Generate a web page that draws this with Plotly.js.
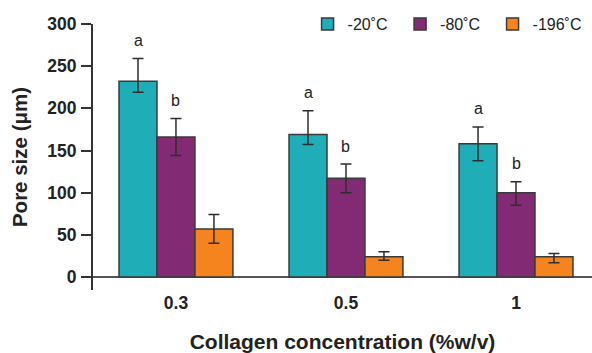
<!DOCTYPE html>
<html>
<head>
<meta charset="utf-8">
<script src="https://cdn.plot.ly/plotly-3.0.1.min.js"></script>
<style>
  html, body { margin: 0; padding: 0; background: #ffffff; }
  #chart { width: 592px; height: 353px; }
</style>
</head>
<body>
<div id="chart"></div>
<script>
// ---- data ----
const categories = ["0.3", "0.5", "1"];
const seriesNames = ["-20˚C", "-80˚C", "-196˚C"];

const pore20 = [232, 169, 158];
const pore80 = [166, 117, 100];
const pore196 = [57, 24, 24];

const errUp20 = [27, 28, 20];
const errDown20 = [13, 12, 20];
const errUp80 = [22, 17, 13];
const errDown80 = [22, 17, 15];
const errUp196 = [17, 6, 4];
const errDown196 = [17, 4, 7];

const letters20 = ["a", "a", "a"];
const letters80 = ["b", "b", "b"];

const yTicks = [0, 50, 100, 150, 200, 250, 300];

// ---- styling ----
const colors = ["#1fadb7", "#832a74", "#f5841f"];
const FONT = "Liberation Sans, Arial, Helvetica, sans-serif";
const BARGAP = 0.33;

const values = [pore20, pore80, pore196];
const ups = [errUp20, errUp80, errUp196];
const downs = [errDown20, errDown80, errDown196];

const traces = values.map((v, j) => ({
  type: "bar",
  name: seriesNames[j],
  x: categories,
  y: v,
  marker: { color: colors[j], line: { color: "#3a3a3a", width: 1.5 } },
  error_y: {
    type: "data", symmetric: false,
    array: ups[j], arrayminus: downs[j],
    color: "#2e2e2e", thickness: 1.5, width: 5.5
  },
  hoverinfo: "skip"
}));

const barW = (1 - BARGAP) / 3;
const annotations = [];
[[letters20, 0], [letters80, 1]].forEach(([labs, j]) => {
  labs.forEach((t, i) => {
    annotations.push({
      x: i + (j - 1) * barW,
      y: values[j][i] + ups[j][i],
      xref: "x", yref: "y",
      text: t, showarrow: false,
      yanchor: "middle", yshift: 18,
      font: { family: FONT, size: 16, color: "#222" }
    });
  });
});

const layout = {
  width: 592, height: 353,
  margin: { l: 93, r: 0, t: 24, b: 63 },
  paper_bgcolor: "#ffffff", plot_bgcolor: "#ffffff",
  barmode: "group", bargap: BARGAP, bargroupgap: 0,
  showlegend: true,
  legend: {
    orientation: "h", x: 0.43, xanchor: "left", y: 1.0, yanchor: "middle",
    entrywidth: 47.5, entrywidthmode: "pixels",
    font: { family: FONT, size: 16, color: "#222" },
    bgcolor: "rgba(0,0,0,0)", traceorder: "normal"
  },
  xaxis: {
    type: "category", range: [-0.488, 2.447],
    showline: false, ticks: "", showgrid: false, zeroline: false,
    tickfont: { family: FONT, size: 17.5, color: "#222", weight: "bold" },
    title: { text: "Collagen concentration (%w/v)", standoff: 30,
             font: { family: FONT, size: 21, color: "#222", weight: "bold" } },
    automargin: false, fixedrange: true
  },
  yaxis: {
    range: [-15.4, 300], tickvals: yTicks, ticktext: yTicks.map(String),
    showline: true, linecolor: "#333", linewidth: 2,
    ticks: "outside", ticklen: 10, tickwidth: 2, tickcolor: "#333",
    ticklabelstandoff: 1,
    showgrid: false, zeroline: true, zerolinecolor: "#555", zerolinewidth: 2,
    tickfont: { family: FONT, size: 17.5, color: "#222", weight: "bold" },
    title: { text: "Pore size (μm)", standoff: 14,
             font: { family: FONT, size: 20.5, color: "#222", weight: "bold" } },
    automargin: false, fixedrange: true
  },
  annotations: annotations
};

Plotly.newPlot("chart", traces, layout, { displayModeBar: false, staticPlot: true });
</script>
</body>
</html>
